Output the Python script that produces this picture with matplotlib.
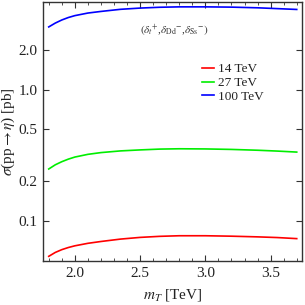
import matplotlib
matplotlib.use("Agg")
import matplotlib.pyplot as plt
from matplotlib.ticker import FixedLocator, MultipleLocator, NullLocator, NullFormatter

plt.rcParams['font.family'] = ['Liberation Serif', 'DejaVu Serif']
plt.rcParams['mathtext.fontset'] = 'stix'

mT = [1.8, 1.85, 1.9, 1.95, 2.0, 2.1, 2.2, 2.35, 2.5, 2.65, 2.8, 3.0, 3.2, 3.4, 3.55, 3.7]
sigma_14 = [0.0538, 0.0576, 0.0605, 0.0628, 0.0647, 0.0676, 0.0698, 0.0728, 0.0750, 0.0764, 0.0772, 0.0772, 0.0766, 0.0757, 0.0748, 0.0734]
sigma_27 = [0.249, 0.268, 0.283, 0.296, 0.307, 0.322, 0.332, 0.342, 0.348, 0.353, 0.355, 0.354, 0.351, 0.346, 0.341, 0.335]
sigma_100 = [3.01, 3.22, 3.40, 3.55, 3.67, 3.84, 3.95, 4.10, 4.19, 4.25, 4.28, 4.28, 4.26, 4.21, 4.15, 4.09]
labels = ['14 TeV', '27 TeV', '100 TeV']
colors = ['#ff0000', '#00ee00', '#0000ff']
yticks = [0.1, 0.2, 0.5, 1.0, 2.0]
xticks = [2.0, 2.5, 3.0, 3.5]

fig = plt.figure(figsize=(3.05, 3.05), dpi=100)
ax = fig.add_axes([0.141, 0.144, 0.849, 0.849])
for s, lab, c in zip([sigma_14, sigma_27, sigma_100], labels, colors):
    ax.plot(mT, s, color=c, lw=1.2, label=lab)

ax.set_yscale('log')
ax.set_xlim(1.756, 3.74)
ax.set_ylim(0.0495, 4.65)
ax.yaxis.set_major_locator(FixedLocator(yticks))
ax.yaxis.set_minor_locator(NullLocator())
ax.yaxis.set_minor_formatter(NullFormatter())
ax.set_yticklabels([f"{v:.1f}" for v in yticks])
ax.xaxis.set_major_locator(FixedLocator(xticks))
ax.xaxis.set_minor_locator(MultipleLocator(0.1))
ax.set_xticklabels([f"{v:.1f}" for v in xticks])
ax.tick_params(which='both', direction='in', top=True, right=True, labelsize=11, color='#333333', labelcolor='#222222')
ax.tick_params(which='major', length=4, width=0.8, pad=4)
ax.tick_params(which='minor', length=2, width=0.6)
for sp in ax.spines.values():
    sp.set_linewidth(1.0)
    sp.set_color('#333333')

ax.set_xlabel(r'$m_T$ [TeV]', fontsize=11, labelpad=5, color='#222222')
ax.set_ylabel(r'$\sigma$(pp$\rightarrow\eta$) [pb]', fontsize=11, labelpad=1, color='#222222')

ax.text(0.505, 0.888, r'$(\delta_t{}^{+}$,$\delta_{\rm Dd}{}^{-}$,$\delta_{\rm Ss}{}^{-})$',
        transform=ax.transAxes, fontsize=8, ha='center', va='center', color='#333333')

leg = ax.legend(loc='upper left', bbox_to_anchor=(0.59, 0.79), frameon=False, fontsize=9.5,
                handlelength=0.9, handletextpad=0.3, labelspacing=0.12, borderpad=0)
for t in leg.get_texts():
    t.set_color('#222222')

fig.savefig('out.png', dpi=100)
